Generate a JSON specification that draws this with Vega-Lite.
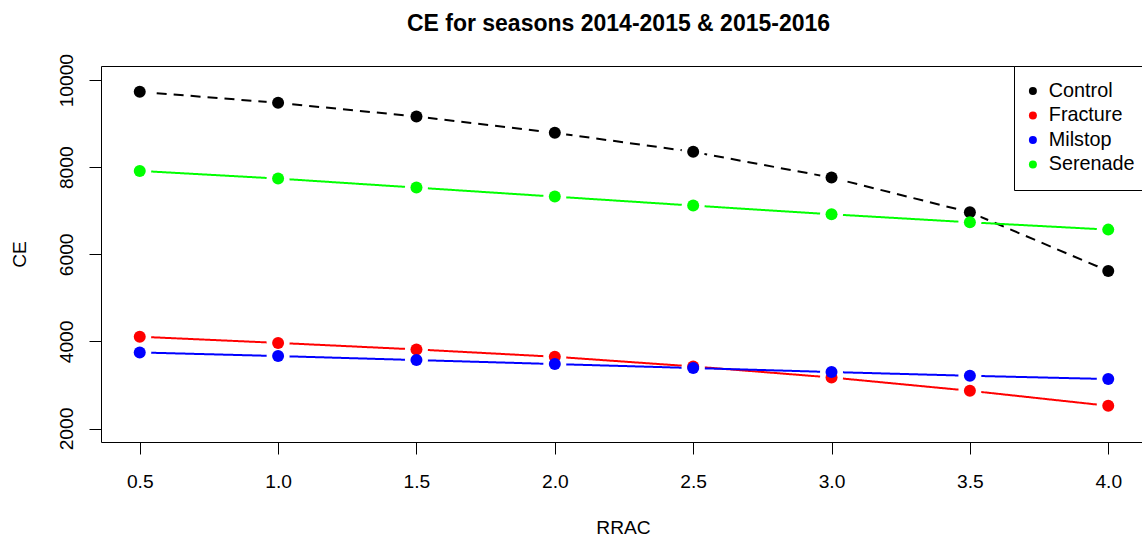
{
  "$schema": "https://vega.github.io/schema/vega-lite/v6.json",
  "autosize": "none",
  "width": 1041,
  "height": 376,
  "padding": {"left": 101, "top": 66, "right": 0, "bottom": 100},
  "background": "white",
  "view": {"stroke": null},
  "config": {
    "font": "Liberation Sans",
    "axis": {
      "labelFont": "Liberation Sans",
      "labelFontSize": 19.2,
      "labelColor": "black",
      "titleFont": "Liberation Sans",
      "titleFontSize": 19.2,
      "titleFontWeight": "normal",
      "titleColor": "black",
      "tickColor": "black",
      "domainColor": "black",
      "tickSize": 12,
      "grid": false
    },
    "legend": {
      "labelFont": "Liberation Sans"
    }
  },
  "title": {
    "text": "CE for seasons 2014-2015 & 2015-2016",
    "font": "Liberation Sans",
    "fontSize": 23,
    "fontWeight": "bold",
    "color": "black",
    "baseline": "alphabetic",
    "offset": 12,
    "dx": -3,
    "dy": 12.5
  },
  "data": {
    "values": [
      {"RRAC": 0.5, "CE": 9733, "series": "Control"},
      {"RRAC": 1.0, "CE": 9480, "series": "Control"},
      {"RRAC": 1.5, "CE": 9166, "series": "Control"},
      {"RRAC": 2.0, "CE": 8791, "series": "Control"},
      {"RRAC": 2.5, "CE": 8354, "series": "Control"},
      {"RRAC": 3.0, "CE": 7763, "series": "Control"},
      {"RRAC": 3.5, "CE": 6966, "series": "Control"},
      {"RRAC": 4.0, "CE": 5618, "series": "Control"},
      {"RRAC": 0.5, "CE": 4108, "series": "Fracture"},
      {"RRAC": 1.0, "CE": 3966, "series": "Fracture"},
      {"RRAC": 1.5, "CE": 3816, "series": "Fracture"},
      {"RRAC": 2.0, "CE": 3648, "series": "Fracture"},
      {"RRAC": 2.5, "CE": 3425, "series": "Fracture"},
      {"RRAC": 3.0, "CE": 3172, "series": "Fracture"},
      {"RRAC": 3.5, "CE": 2867, "series": "Fracture"},
      {"RRAC": 4.0, "CE": 2522, "series": "Fracture"},
      {"RRAC": 0.5, "CE": 3747, "series": "Milstop"},
      {"RRAC": 1.0, "CE": 3664, "series": "Milstop"},
      {"RRAC": 1.5, "CE": 3572, "series": "Milstop"},
      {"RRAC": 2.0, "CE": 3480, "series": "Milstop"},
      {"RRAC": 2.5, "CE": 3389, "series": "Milstop"},
      {"RRAC": 3.0, "CE": 3297, "series": "Milstop"},
      {"RRAC": 3.5, "CE": 3211, "series": "Milstop"},
      {"RRAC": 4.0, "CE": 3136, "series": "Milstop"},
      {"RRAC": 0.5, "CE": 7917, "series": "Serenade"},
      {"RRAC": 1.0, "CE": 7740, "series": "Serenade"},
      {"RRAC": 1.5, "CE": 7533, "series": "Serenade"},
      {"RRAC": 2.0, "CE": 7326, "series": "Serenade"},
      {"RRAC": 2.5, "CE": 7120, "series": "Serenade"},
      {"RRAC": 3.0, "CE": 6920, "series": "Serenade"},
      {"RRAC": 3.5, "CE": 6736, "series": "Serenade"},
      {"RRAC": 4.0, "CE": 6568, "series": "Serenade"}
    ]
  },
  "resolve": {"axis": {"x": "independent", "y": "independent"}, "legend": {"color": "independent", "strokeDash": "independent"}},
  "layer": [
    {
      "mark": {"type": "line", "strokeWidth": 2},
      "encoding": {
        "x": {
          "field": "RRAC", "type": "quantitative",
          "scale": {"domain": [0.36, 4.122], "nice": false, "zero": false},
          "axis": {
            "orient": "bottom",
            "values": [0.5, 1.0, 1.5, 2.0, 2.5, 3.0, 3.5, 4.0],
            "format": ".1f",
            "labelBaseline": "top",
            "labelPadding": 18,
            "labelFlush": false,
            "labelOverlap": false,
            "title": "RRAC",
            "titleBaseline": "alphabetic",
            "titleAlign": "center",
            "titleX": 522,
            "titleY": 91
          }
        },
        "y": {
          "field": "CE", "type": "quantitative",
          "scale": {"domain": [1690, 10326], "nice": false, "zero": false},
          "axis": {
            "orient": "left",
            "values": [2000, 4000, 6000, 8000, 10000],
            "format": "d",
            "labelAngle": 270,
            "labelAlign": "center",
            "labelBaseline": "alphabetic",
            "labelPadding": 17,
            "labelFlush": false,
            "labelOverlap": false,
            "title": "CE",
            "titleAngle": 270,
            "titleAlign": "center",
            "titleBaseline": "alphabetic",
            "titleX": -76,
            "titleY": 188
          }
        },
        "color": {
          "field": "series", "type": "nominal",
          "scale": {"domain": ["Control", "Fracture", "Milstop", "Serenade"], "range": ["#000000", "#FF0000", "#0000FF", "#00FF00"]},
          "legend": null
        },
        "strokeDash": {
          "field": "series", "type": "nominal",
          "scale": {"domain": ["Control", "Fracture", "Milstop", "Serenade"], "range": [[10, 7], [1, 0], [1, 0], [1, 0]]},
          "legend": null
        }
      }
    },
    {
      "mark": {"type": "circle", "size": 529, "opacity": 1, "fillOpacity": 1, "fill": "#FFFFFF", "strokeWidth": 0},
      "encoding": {
        "x": {
          "field": "RRAC", "type": "quantitative",
          "axis": {"orient": "top", "domain": true, "ticks": false, "labels": false, "title": null, "values": []}
        },
        "y": {"field": "CE", "type": "quantitative", "axis": null}
      }
    },
    {
      "mark": {"type": "point", "filled": true, "shape": "circle", "size": 144, "opacity": 1},
      "encoding": {
        "x": {"field": "RRAC", "type": "quantitative", "axis": null},
        "y": {"field": "CE", "type": "quantitative", "axis": null},
        "color": {
          "field": "series", "type": "nominal",
          "scale": {"domain": ["Control", "Fracture", "Milstop", "Serenade"], "range": ["#000000", "#FF0000", "#0000FF", "#00FF00"]},
          "legend": {
            "title": null,
            "orient": "none",
            "legendX": 913,
            "legendY": 0,
            "strokeColor": "black",
            "fillColor": "white",
            "padding": 15,
            "symbolType": "circle",
            "symbolSize": 64,
            "symbolStrokeWidth": 0,
            "symbolOffset": -6,
            "labelFontSize": 19.8,
            "labelColor": "black",
            "labelOffset": 6,
            "rowPadding": 3.5
          }
        }
      }
    }
  ]
}
